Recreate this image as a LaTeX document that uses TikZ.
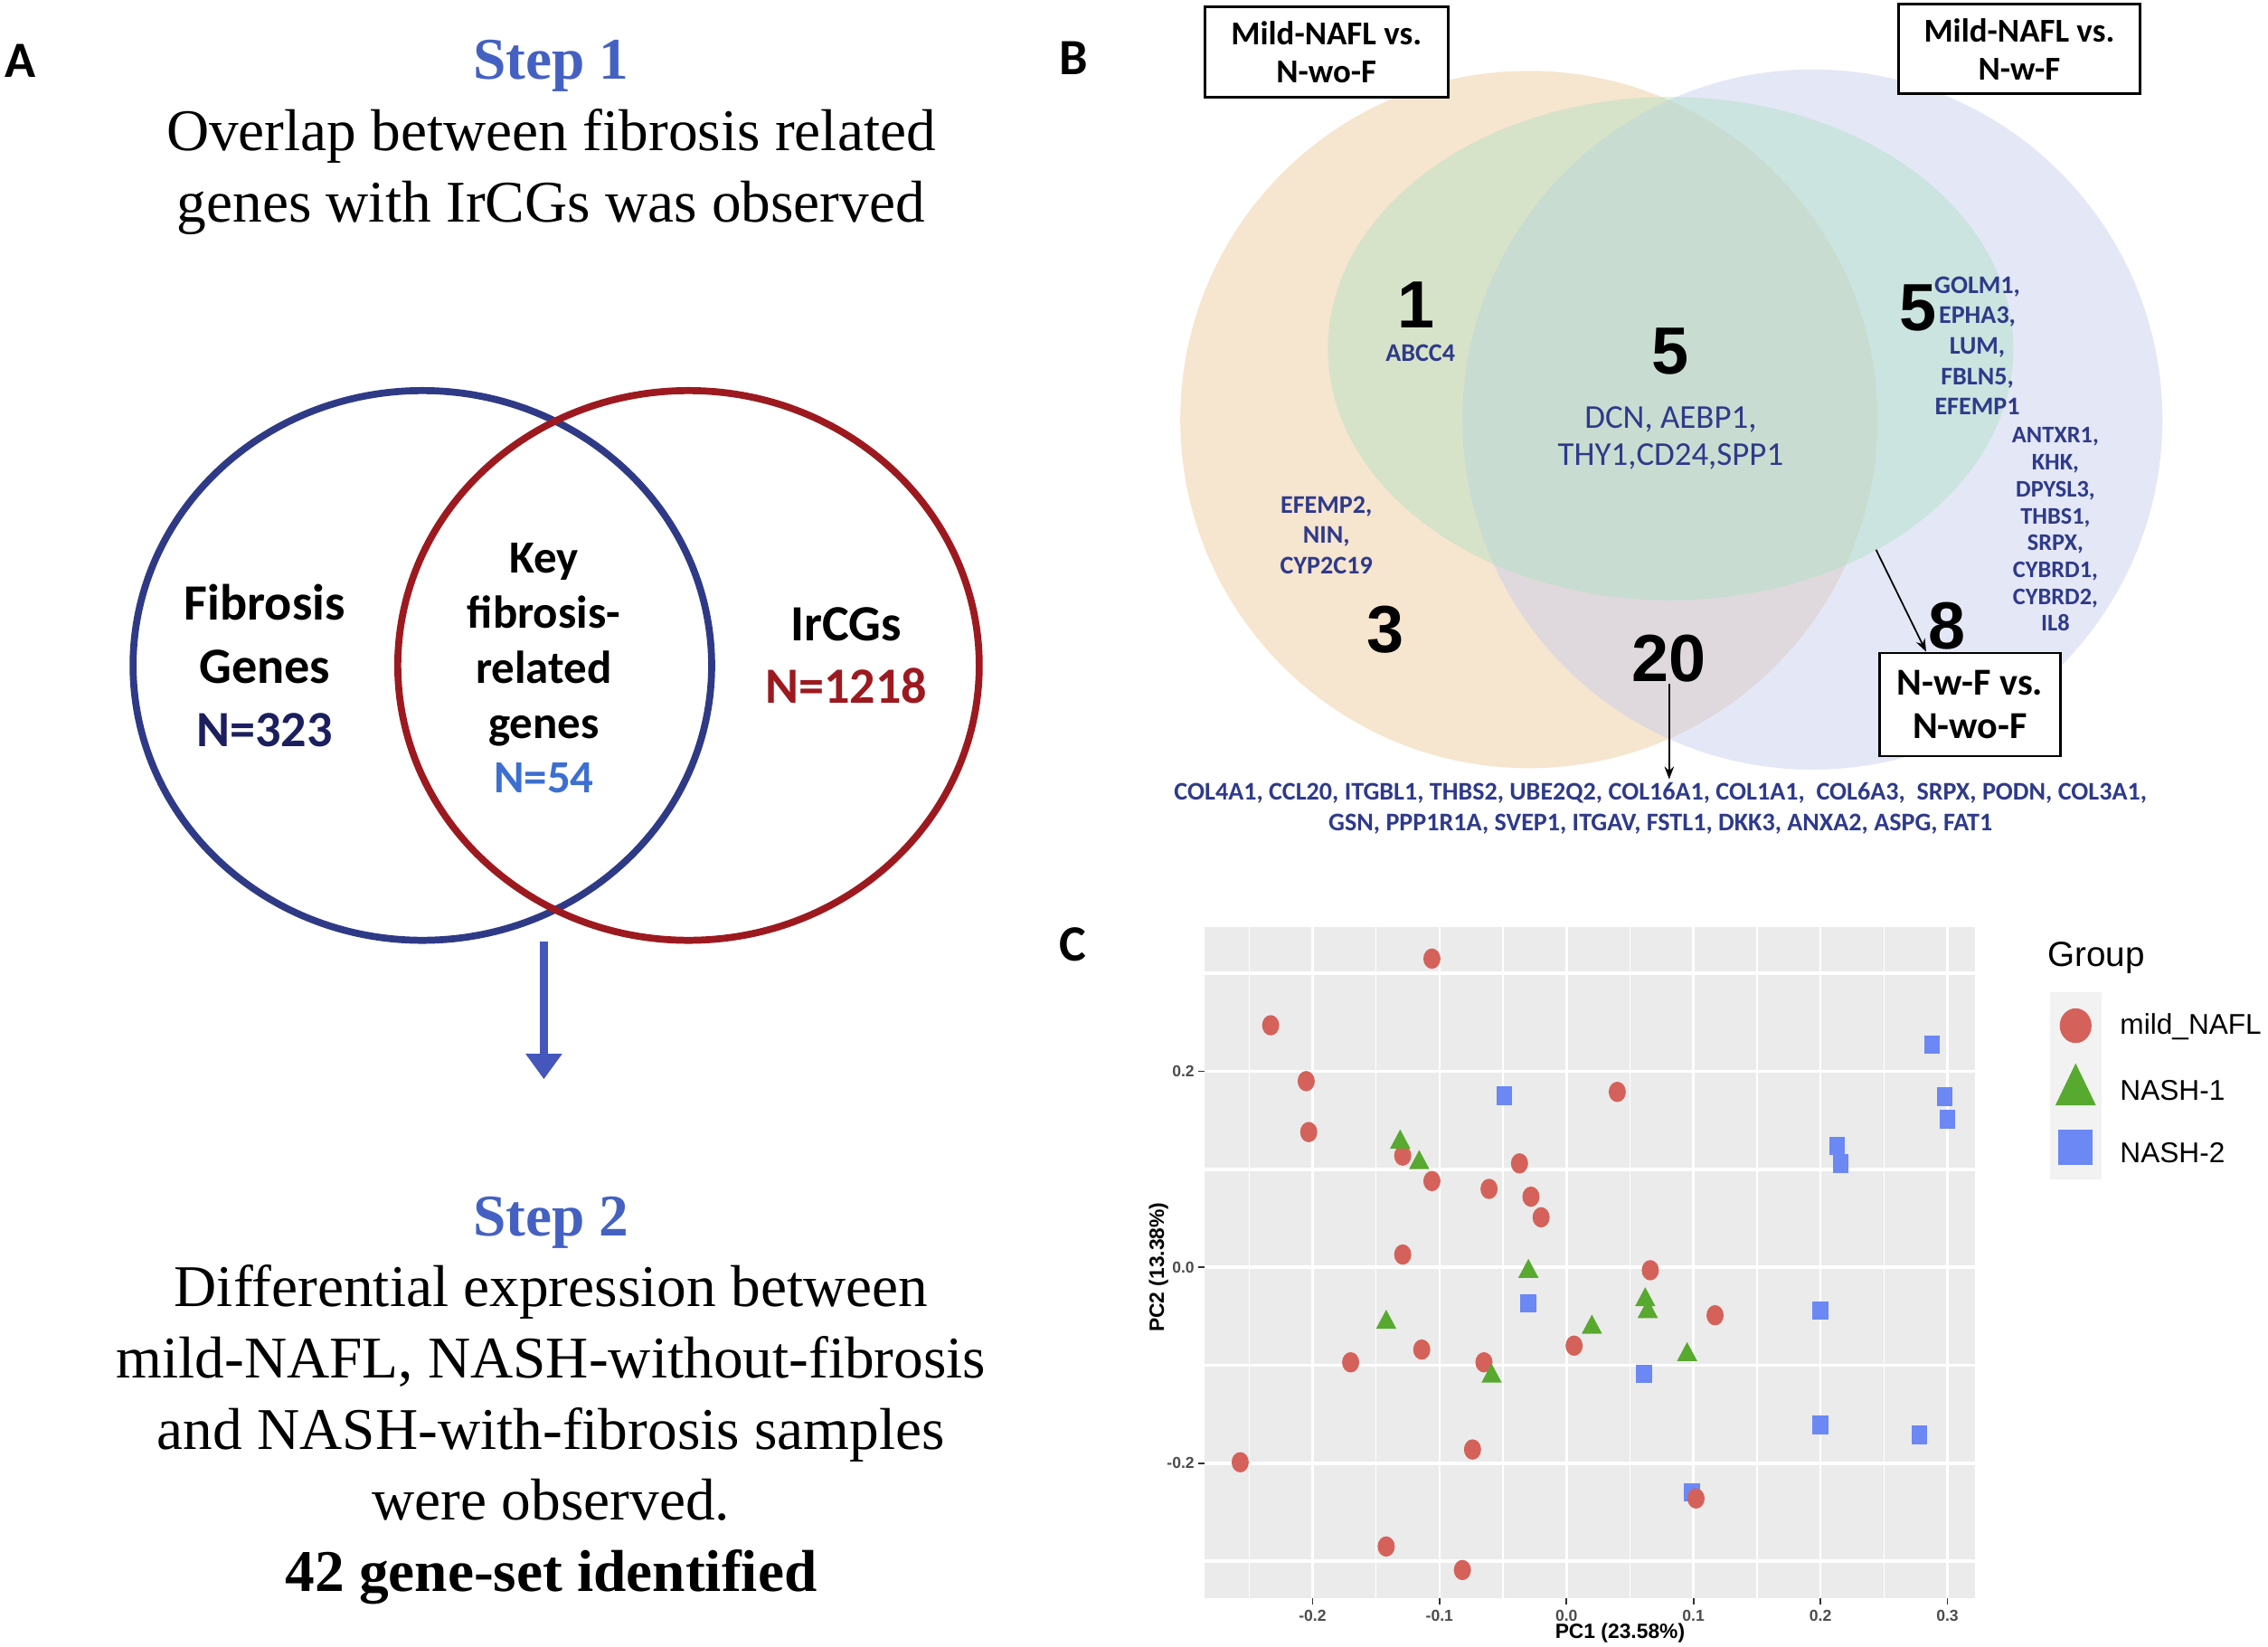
\documentclass[tikz,border=0pt]{standalone}
\usepackage{fontspec}
\setmainfont{Liberation Serif}
\newfontfamily\calfont{Carlito}
\newfontfamily\arialfont{Liberation Sans}
\usetikzlibrary{arrows.meta,calc}

\definecolor{stepblue}{HTML}{4461C2}
\definecolor{fibblue}{HTML}{2F3A86}
\definecolor{ircred}{HTML}{9C1A1F}
\definecolor{navyN}{HTML}{1C1F5E}
\definecolor{keyblue}{HTML}{3D6FD1}
\definecolor{arrowblue}{HTML}{4557BC}
\definecolor{genenavy}{HTML}{2E3A8A}
\definecolor{vorange}{HTML}{EDCB9F}
\definecolor{vblue}{HTML}{C9CFED}
\definecolor{vgreen}{HTML}{AAE1BE}
\definecolor{ggred}{HTML}{D4625A}
\definecolor{gggreen}{HTML}{58A92F}
\definecolor{ggblue}{HTML}{6B88F4}
\definecolor{panelgrey}{HTML}{EBEBEB}
\definecolor{keygrey}{HTML}{F2F2F2}

\begin{document}
\begin{tikzpicture}[x=0.016cm,y=-0.016cm,
	panel/.style={font=\calfont\bfseries\fontsize{16}{16}\selectfont},
	steptext/.style={align=center,font=\fontsize{18.6}{22.4}\selectfont},
	venntext/.style={align=center,font=\calfont\bfseries\fontsize{16}{20}\selectfont},
	cmpbox/.style={draw,line width=0.8pt,fill=white,align=center,inner sep=0pt,font=\calfont\bfseries\fontsize{10.5}{11.8}\selectfont},
	count/.style={inner sep=0.5pt,font=\arialfont\bfseries\fontsize{21}{21}\selectfont},
	genes/.style={align=center,inner sep=1pt,text=genenavy,font=\calfont\bfseries\fontsize{8}{9.6}\selectfont},
	thinarrow/.style={-{Stealth[length=4pt,width=3pt]},line width=0.5pt},
	bigarrow/.style={draw=arrowblue,line width=2.6pt,-{Triangle[width=11pt,length=8pt]}},
	gridline/.style={white,line width=1pt},
	tickmark/.style={black!80,line width=0.5pt},
	ticklab/.style={font=\arialfont\bfseries\fontsize{5}{6}\selectfont,text=black!70},
	legtext/.style={anchor=west,font=\arialfont\fontsize{9}{10}\selectfont}]

	\useasboundingbox (0,0) rectangle (1568,1138);

	% A
	\node[panel] (labA) at (14,42) {A};
	\node[steptext] (step1) at (381,95) {\textcolor{stepblue}{\textbf{Step 1}}\\Overlap between fibrosis related\\genes with IrCGs was observed};

	\draw[fibblue,line width=2.2pt] (292,460) ellipse [x radius=200,y radius=190];
	\draw[ircred,line width=2.2pt] (476,460) ellipse [x radius=201,y radius=190];

	\node[venntext] (fibro) at (183,460) {Fibrosis\\Genes\\\textcolor{navyN}{N=323}};
	\node[venntext,font=\calfont\bfseries\fontsize{14.5}{17.3}\selectfont] (key) at (376,462) {Key\\fibrosis-\\related\\genes\\\textcolor{keyblue}{N=54}};
	\node[venntext,font=\calfont\bfseries\fontsize{16}{19.5}\selectfont] (ircg) at (585,453) {IrCGs\\\textcolor{ircred}{N=1218}};

	\coordinate (arrA) at (376,651);
	\coordinate (arrB) at (376,746);
	\draw[bigarrow] (arrA) -- (arrB);

	\node[steptext] (step2) at (381,968) {\textcolor{stepblue}{\textbf{Step 2}}\\Differential expression between\\mild-NAFL, NASH-without-fibrosis\\and NASH-with-fibrosis samples\\were observed.\\\textbf{42 gene-set identified}};

	% B
	\node[panel] (labB) at (742,40) {B};
	\fill[vorange,fill opacity=0.5] (1057,290) circle [radius=241];
	\fill[vblue,fill opacity=0.5] (1253,290) circle [radius=242];
	\fill[vgreen,fill opacity=0.4] (1155,241) ellipse [x radius=237,y radius=174];

	\node[cmpbox,minimum width=2.69cm,minimum height=1cm] (box1) at (917,36) {Mild-NAFL vs.\\N-wo-F};
	\node[cmpbox,minimum width=2.67cm,minimum height=0.99cm] (box2) at (1396,34) {Mild-NAFL vs.\\N-w-F};

	\node[count] (n1) at (979,211) {1};
	\node[count] (n5a) at (1155,243) {5};
	\node[count] (n5b) at (1326,213) {5};
	\node[count] (n3) at (958,435) {3};
	\node[count] (n20) at (1154,455) {20};
	\node[count] (n8) at (1346,433) {8};

	\node[genes] (g1) at (982,244) {ABCC4};
	\node[genes,font=\calfont\fontsize{10.5}{11.8}\selectfont] (g5a) at (1155,303) {DCN, AEBP1,\\THY1,CD24,SPP1};
	\node[genes] (g3) at (917,370) {EFEMP2,\\NIN,\\CYP2C19};
	\node[genes] (g5b) at (1367,239) {GOLM1,\\EPHA3,\\LUM,\\FBLN5,\\EFEMP1};
	\node[genes,font=\calfont\bfseries\fontsize{7.5}{8.45}\selectfont] (g8) at (1421,366) {ANTXR1,\\KHK,\\DPYSL3,\\THBS1,\\SRPX,\\CYBRD1,\\CYBRD2,\\IL8};
	\node[genes] (g20) at (1148,559) {COL4A1, CCL20, ITGBL1, THBS2, UBE2Q2, COL16A1, COL1A1,\ \ COL6A3,\ \ SRPX, PODN, COL3A1,\\GSN, PPP1R1A, SVEP1, ITGAV, FSTL1, DKK3, ANXA2, ASPG, FAT1};

	\node[cmpbox,minimum width=2cm,minimum height=1.14cm,font=\calfont\bfseries\fontsize{12}{13.7}\selectfont] (box3) at (1362,487) {N-w-F vs.\\N-wo-F};

	\coordinate (edge8) at (1297,380);
	\draw[thinarrow] (n20.south) -- (n20.south |- g20.north);
	\draw[thinarrow] (edge8) -- (n8.west |- box3.north);

	% C
	\node[panel] (labC) at (742,653) {C};
	\begin{scope}[shift={(1083,876)},x=14.05cm,y=10.84cm]
		\fill[panelgrey] (-0.285,-0.338) rectangle (0.322,0.347);
		\foreach \gx in {-0.25,-0.15,-0.05,0.05,0.15,0.25}
			\draw[white,line width=0.4pt] (\gx,-0.338) -- (\gx,0.347);
		\foreach \gx in {-0.2,-0.1,0,0.1,0.2,0.3}
			\draw[white,line width=0.7pt] (\gx,-0.338) -- (\gx,0.347);
		\foreach \gy in {-0.3,-0.2,-0.1,0,0.1,0.2,0.3}
			\draw[gridline] (-0.285,\gy) -- (0.322,\gy);
		\foreach \tx/\tl [count=\k] in {-0.2/-0.2,-0.1/-0.1,0/0.0,0.1/0.1,0.2/0.2,0.3/0.3}
			\draw[tickmark] (\tx,-0.338) -- ++(0,-2pt) node[ticklab,below,inner sep=1.5pt] (xt\k) {\tl};
		\foreach \ty/\tl [count=\k] in {0.2/0.2,0/0.0,-0.2/-0.2}
			\draw[tickmark] (-0.285,\ty) -- ++(-2pt,0) node[ticklab,left,inner sep=1pt] (yt\k) {\tl};

		% NASH-2
		\foreach \px/\py in {0.288/0.227,-0.049/0.175,0.298/0.174,0.300/0.151,0.213/0.124,0.216/0.106,-0.030/-0.037,0.200/-0.044,0.061/-0.109,0.200/-0.161,0.278/-0.171,0.099/-0.230}
			\fill[ggblue] (\px,\py) ++(-2.5pt,-2.9pt) rectangle ++(5pt,5.8pt);
		% mild_NAFL
		\foreach \px/\py in {-0.106/0.315,-0.233/0.247,-0.205/0.190,-0.203/0.138,-0.129/0.114,-0.106/0.088,-0.037/0.106,-0.061/0.080,-0.028/0.072,-0.020/0.051,0.040/0.179,-0.129/0.013,0.066/-0.003,0.117/-0.049,0.006/-0.080,-0.114/-0.084,-0.170/-0.097,-0.065/-0.097,-0.074/-0.186,-0.257/-0.199,0.102/-0.236,-0.142/-0.285,-0.082/-0.309}
			\fill[ggred] (\px,\py) ellipse [x radius=2.7pt,y radius=3.2pt];
		% NASH-1
		\foreach \px/\py in {-0.131/0.129,-0.116/0.108,-0.030/-0.003,0.062/-0.032,0.064/-0.044,-0.142/-0.055,0.020/-0.060,0.095/-0.088,-0.059/-0.110}
			\fill[gggreen] (\px,\py) ++(0,3.6pt) -- ++(-3.2pt,-6pt) -- ++(6.4pt,0) -- cycle;
	\end{scope}

	\node[font=\arialfont\bfseries\fontsize{6.5}{7}\selectfont] (pc1) at (1120,1129) {PC1 (23.58\%)};
	\node[font=\arialfont\bfseries\fontsize{6.5}{7}\selectfont,rotate=90] (pc2) at (801,876) {PC2 (13.38\%)};

	% legend
	\node[legtext,font=\arialfont\fontsize{11}{12}\selectfont] (grp) at (1408,662) {Group};
	\fill[keygrey] (1417,686) rectangle (1453,815);
	\fill[ggred] (1435,709) ellipse [x radius=11,y radius=12];
	\fill[gggreen] (1435,735) -- (1421,764) -- (1449,764) -- cycle;
	\fill[ggblue] (1423,781) rectangle (1447,805);
	\node[legtext] (lg1) at (1458,710) {mild\_NAFL};
	\node[legtext] (lg2) at (1458,754) {NASH-1};
	\node[legtext] (lg3) at (1458,797) {NASH-2};
\end{tikzpicture}
\end{document}
